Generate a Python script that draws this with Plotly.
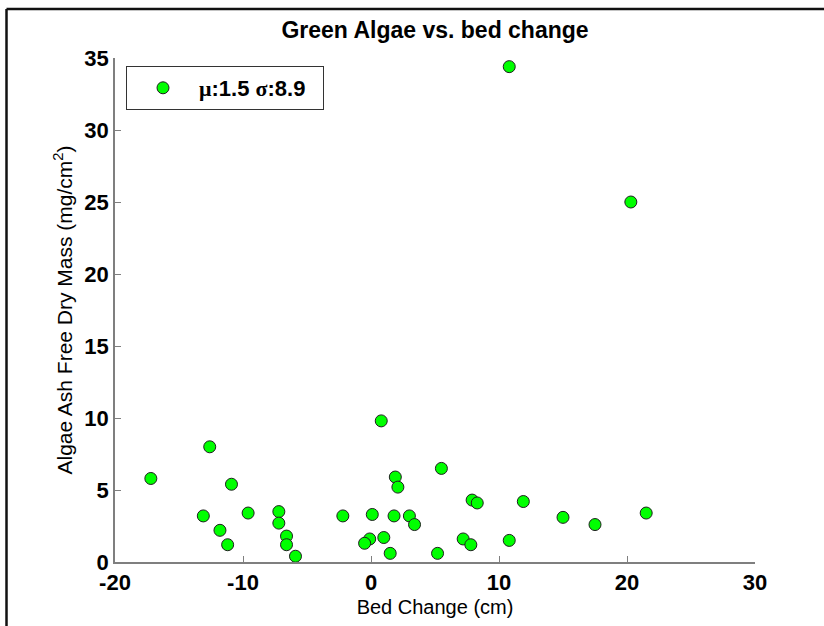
import plotly.graph_objects as go

# Bed change (cm) and algae ash free dry mass (mg/cm^2) per sample
bed_change = [-17.2, -12.6, -13.1, -10.9, -11.8, -11.2, -9.6, -7.2, -7.2, -6.6,
              -6.6, -5.9, -2.2, 0.1, 0.8, 1.9, 2.1, 1.8, 3.0, 3.4,
              -0.1, -0.5, 1.0, 1.5, 5.5, 7.9, 8.3, 11.9, 15.0, 17.5,
              21.5, 7.2, 7.8, 10.8, 5.2, 10.8, 20.3]
afdm = [5.8, 8.0, 3.2, 5.4, 2.2, 1.2, 3.4, 3.5, 2.7, 1.8,
        1.2, 0.4, 3.2, 3.3, 9.8, 5.9, 5.2, 3.2, 3.2, 2.6,
        1.6, 1.3, 1.7, 0.6, 6.5, 4.3, 4.1, 4.2, 3.1, 2.6,
        3.4, 1.6, 1.2, 1.5, 0.6, 34.4, 25.0]

SERIF = "Liberation Serif, Times New Roman, serif"
series_name = (f'<span style="font-family:{SERIF}">μ</span>:1.5 '
               f'<span style="font-family:{SERIF}">σ</span>:8.9\u00a0\u00a0')

x_ticks = [-20, -10, 0, 10, 20, 30]
y_ticks = [0, 5, 10, 15, 20, 25, 30, 35]

FONT = "Liberation Sans, Arial, Helvetica, sans-serif"
AXIS_GRAY = "#7f7f7f"

fig = go.Figure()
fig.add_trace(go.Scatter(
    x=bed_change, y=afdm, mode="markers", name=series_name, showlegend=True,
    marker=dict(size=12, color="#00ff00", line=dict(color="#1e1e1e", width=1)),
))

# L-shaped frame along the top and left edges of the figure
L, R, T, B = 115, 755, 58, 562
W, H = R - L, B - T
def px_x(p):
    return (p - L) / W
def px_y(p):
    return (B - p) / H

fig.add_shape(type="line", xref="paper", yref="paper",
              x0=px_x(6.5), x1=px_x(824), y0=px_y(9), y1=px_y(9),
              line=dict(color="#111111", width=2.5))
fig.add_shape(type="line", xref="paper", yref="paper",
              x0=px_x(6.5), x1=px_x(6.5), y0=px_y(9), y1=px_y(626),
              line=dict(color="#111111", width=2.5))

fig.update_layout(
    width=824, height=626,
    margin=dict(l=L, r=824 - R, t=T, b=626 - B),
    paper_bgcolor="white", plot_bgcolor="white",
    font=dict(family=FONT, color="black"),
    title=dict(text="Green Algae vs. bed change", x=0.5, xref="paper",
               y=1 - 30 / 626, yref="container", yanchor="middle",
               font=dict(size=23, family=FONT, weight="bold", color="black")),
    xaxis=dict(range=[-20, 30], tickvals=x_ticks, ticktext=[str(v) for v in x_ticks],
               showgrid=False, zeroline=False, showline=True, linecolor=AXIS_GRAY,
               linewidth=1.5, ticks="inside", ticklen=6, tickcolor=AXIS_GRAY,
               tickfont=dict(size=22, family=FONT, weight="bold"),
               title=dict(text="Bed Change (cm)", font=dict(size=20, family=FONT),
                          standoff=6)),
    yaxis=dict(range=[0, 35], tickvals=y_ticks, ticktext=[str(v) for v in y_ticks],
               showgrid=False, zeroline=False, showline=True, linecolor=AXIS_GRAY,
               linewidth=1.5, ticks="inside", ticklen=6, tickcolor=AXIS_GRAY,
               tickfont=dict(size=22, family=FONT, weight="bold"),
               title=dict(text="Algae Ash Free Dry Mass (mg/cm<sup>2</sup>)",
                          font=dict(size=21, family=FONT), standoff=6)),
    legend=dict(x=px_x(126), y=px_y(66), xanchor="left", yanchor="top",
                bgcolor="white", bordercolor="#333333", borderwidth=1,
                itemwidth=62,
                font=dict(size=22, family=FONT, weight="bold", color="black")),
)

fig.write_html("out.html", config={"displayModeBar": False})
